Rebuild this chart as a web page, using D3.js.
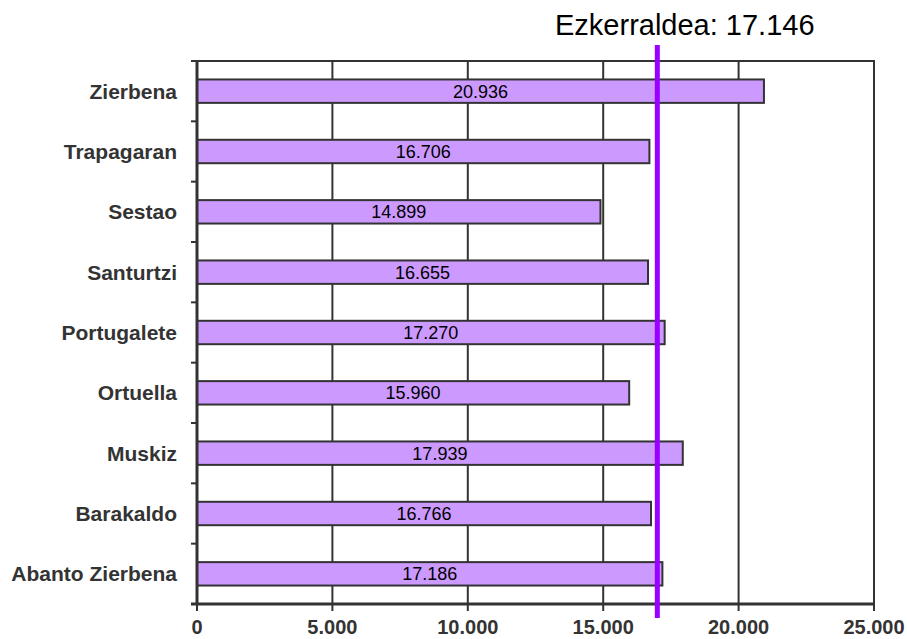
<!DOCTYPE html>
<html><head><meta charset="utf-8">
<script src="https://cdn.jsdelivr.net/npm/d3@7"></script>
<style>body{margin:0;background:#fff}svg{display:block}</style>
</head><body>
<svg id="c" width="907" height="639"></svg>
<script>
const categories = ["Zierbena","Trapagaran","Sestao","Santurtzi","Portugalete","Ortuella","Muskiz","Barakaldo","Abanto Zierbena"];
const values = [20936,16706,14899,16655,17270,15960,17939,16766,17186];
const valueLabels = ["20.936","16.706","14.899","16.655","17.270","15.960","17.939","16.766","17.186"];
const xTicks = [0,5000,10000,15000,20000,25000];
const xTickLabels = ["0","5.000","10.000","15.000","20.000","25.000"];
const refValue = 17146;
const refLabel = "Ezkerraldea: 17.146";

const svg = d3.select("#c");
const m = {left:197, right:874, top:61, bottom:604};
const x = d3.scaleLinear().domain([0,25000]).range([m.left,m.right]);
const y = d3.scaleBand().domain(categories).range([m.top,m.bottom]).paddingInner(0.612).paddingOuter(0.306);
const dark = "#333";
const font = "Liberation Sans, Arial, sans-serif";

// gridlines
svg.append("g").selectAll("line").data(xTicks.slice(1)).join("line")
  .attr("x1",d=>x(d)).attr("x2",d=>x(d)).attr("y1",m.top).attr("y2",m.bottom)
  .attr("stroke",dark).attr("stroke-width",2);
// top border
svg.append("line").attr("x1",m.left-6).attr("x2",m.right+1).attr("y1",m.top).attr("y2",m.top)
  .attr("stroke",dark).attr("stroke-width",2);

// bars
svg.append("g").selectAll("rect").data(values).join("rect")
  .attr("x",x(0)).attr("y",(d,i)=>y(categories[i]))
  .attr("width",d=>x(d)-x(0)).attr("height",y.bandwidth())
  .attr("fill","#cc99ff").attr("stroke",dark).attr("stroke-width",2);

// value labels
svg.append("g").selectAll("text").data(values).join("text")
  .attr("x",d=>(x(0)+x(d))/2).attr("y",(d,i)=>y(categories[i])+y.bandwidth()/2)
  .attr("dy","0.36em").attr("text-anchor","middle")
  .attr("font-family",font).attr("font-size",18).attr("fill","#000")
  .text((d,i)=>valueLabels[i]);

// y axis
const step = y.step();
const bounds = d3.range(categories.length+1).map(i=>m.top + i*step);
svg.append("line").attr("x1",m.left).attr("x2",m.left).attr("y1",m.top).attr("y2",m.bottom)
  .attr("stroke",dark).attr("stroke-width",3);
svg.append("g").selectAll("line").data(bounds).join("line")
  .attr("x1",m.left-6).attr("x2",m.left).attr("y1",d=>d).attr("y2",d=>d)
  .attr("stroke",dark).attr("stroke-width",2);
svg.append("g").selectAll("text").data(categories).join("text")
  .attr("x",177).attr("y",d=>y(d)+y.bandwidth()/2).attr("dy","0.36em")
  .attr("text-anchor","end").attr("font-family",font).attr("font-weight","bold")
  .attr("font-size",21).attr("fill",dark).text(d=>d);

// x axis
svg.append("line").attr("x1",m.left-6).attr("x2",m.right+1).attr("y1",m.bottom).attr("y2",m.bottom)
  .attr("stroke",dark).attr("stroke-width",3);
svg.append("g").selectAll("line").data(xTicks).join("line")
  .attr("x1",d=>x(d)).attr("x2",d=>x(d)).attr("y1",m.bottom).attr("y2",m.bottom+7)
  .attr("stroke",dark).attr("stroke-width",2);
svg.append("g").selectAll("text").data(xTicks).join("text")
  .attr("x",d=>x(d)).attr("y",634).attr("text-anchor","middle")
  .attr("font-family",font).attr("font-weight","bold").attr("font-size",20).attr("fill",dark)
  .text((d,i)=>xTickLabels[i]);

// reference line
svg.append("line").attr("x1",x(refValue)-4).attr("x2",x(refValue)-4).attr("y1",45).attr("y2",618)
  .attr("stroke","#9900ff").attr("stroke-width",5);
svg.append("text").attr("x",555).attr("y",35).attr("font-family",font).attr("font-size",29)
  .attr("fill","#000").text(refLabel);
</script>
</body></html>
